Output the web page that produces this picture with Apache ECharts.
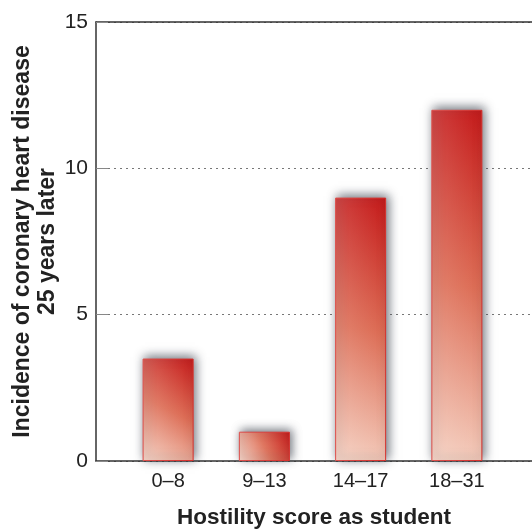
<!DOCTYPE html>
<html>
<head>
<meta charset="utf-8">
<style>
  html, body { margin: 0; padding: 0; background: #fff; }
  #chart { width: 532px; height: 529px; }
</style>
<script src="https://cdn.jsdelivr.net/npm/echarts@6/dist/echarts.min.js"></script>
</head>
<body>
<div id="chart"></div>
<script>
// Hostility score groups and coronary heart disease incidence 25 years later
const categories = ['0–8', '9–13', '14–17', '18–31'];
const incidence = [3.5, 1.0, 9.0, 12.0];
const yTicks = [0, 5, 10, 15];

const FONT = '"Liberation Sans", Arial, Helvetica, sans-serif';
const AXIS_COLOR = '#333';

const chart = echarts.init(document.getElementById('chart'));

// main fill: light at the bottom-left, deep red at the top-right
const barGradient = new echarts.graphic.LinearGradient(0, 1, 1, 0, [
  { offset: 0, color: '#f4cdbd' },
  { offset: 0.5, color: '#dc6a52' },
  { offset: 1, color: '#c41717' }
]);
// soft sheen that lightens the left side of each bar
const sheen = new echarts.graphic.LinearGradient(0, 0, 1, 0, [
  { offset: 0, color: 'rgba(255,255,255,0.16)' },
  { offset: 1, color: 'rgba(255,255,255,0)' }
]);

chart.setOption({
  animation: false,
  backgroundColor: '#fff',
  grid: [
    // frame grid: axis lines, grid lines and titles
    { left: 96, right: 0, top: 22, bottom: 68, containLabel: false, outerBoundsMode: 'none' },
    // bar grid, inset from the frame
    { left: 120, right: 27, top: 22, bottom: 68, containLabel: false, outerBoundsMode: 'none' }
  ],
  xAxis: [
    {
      gridIndex: 0, type: 'category', data: [''], position: 'bottom',
      axisLine: { lineStyle: { color: AXIS_COLOR, width: 1.5 } },
      axisTick: { show: false }, axisLabel: { show: false },
      name: 'Hostility score as student', nameLocation: 'middle', nameGap: 45,
      nameMoveOverlap: false,
      nameTextStyle: { fontFamily: FONT, fontWeight: 'bold', fontSize: 22.5, color: '#222' }
    },
    {
      gridIndex: 0, type: 'category', data: [''], position: 'top',
      axisLine: { lineStyle: { color: AXIS_COLOR, width: 1.5 } },
      axisTick: { show: false }, axisLabel: { show: false }
    },
    {
      gridIndex: 1, type: 'category', data: categories,
      axisLine: { show: false }, axisTick: { show: false },
      axisLabel: { fontFamily: FONT, fontSize: 20, color: '#222', margin: 10 }
    }
  ],
  yAxis: [
    {
      gridIndex: 0, type: 'value', min: yTicks[0], max: yTicks[yTicks.length - 1], interval: 5,
      axisLine: { show: true, lineStyle: { color: AXIS_COLOR, width: 1.5 } },
      axisTick: { show: true, inside: true, length: 12, lineStyle: { color: '#888' } },
      axisLabel: { fontFamily: FONT, fontSize: 21, color: '#222', margin: 8 },
      splitLine: { show: true, lineStyle: { color: '#777', type: [2, 4], width: 1 } },
      name: 'Incidence of coronary heart disease\n25 years later',
      nameLocation: 'middle', nameGap: 36,
      nameMoveOverlap: false,
      nameTextStyle: { fontFamily: FONT, fontWeight: 'bold', fontSize: 23, color: '#222', lineHeight: 25 }
    },
    {
      gridIndex: 1, type: 'value', min: yTicks[0], max: yTicks[yTicks.length - 1], interval: 5,
      show: false, splitLine: { show: false }
    }
  ],
  series: [
    {
      type: 'bar',
      xAxisIndex: 2,
      yAxisIndex: 1,
      data: incidence,
      barWidth: 51,
      itemStyle: {
        color: barGradient,
        borderColor: '#d7302c',
        borderWidth: 1,
        shadowColor: 'rgba(60, 66, 78, 0.75)',
        shadowBlur: 10,
        shadowOffsetX: 2,
        shadowOffsetY: -2
      }
    },
    {
      type: 'bar',
      xAxisIndex: 2,
      yAxisIndex: 1,
      data: incidence,
      barWidth: 51,
      barGap: '-100%',
      silent: true,
      itemStyle: { color: sheen, borderWidth: 0 }
    }
  ]
});
</script>
</body>
</html>
